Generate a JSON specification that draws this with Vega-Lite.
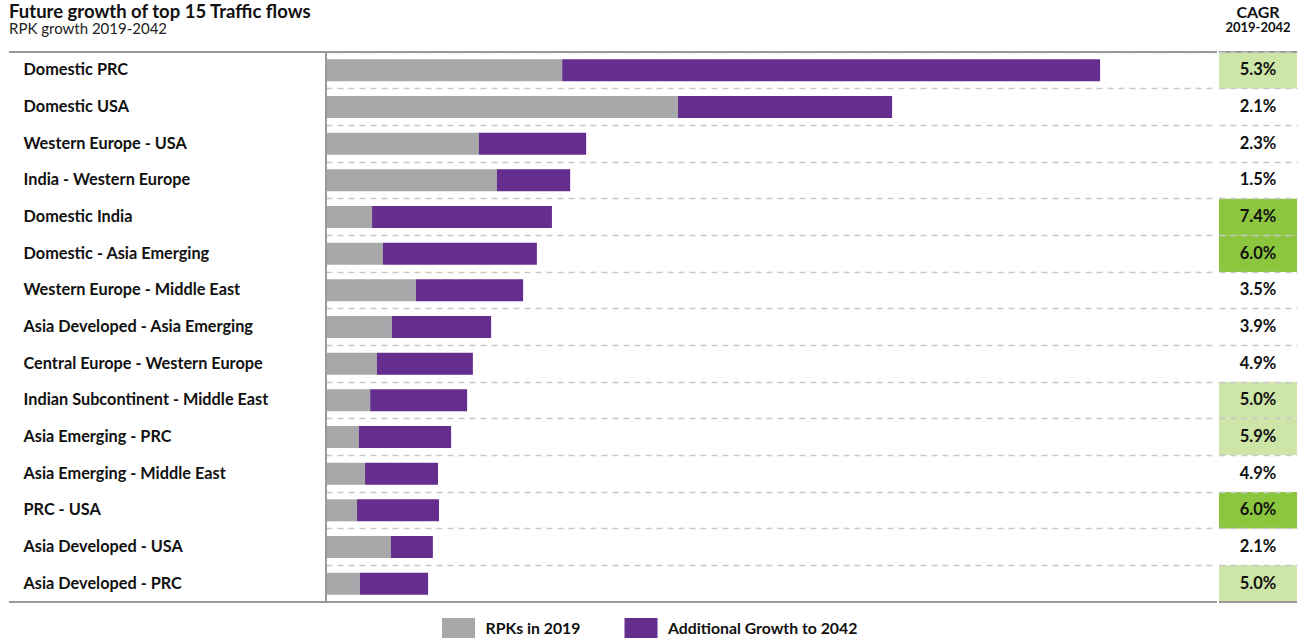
{
  "$schema": "https://vega.github.io/schema/vega-lite/v6.json",
  "padding": {"left": 8, "top": 2, "right": 5, "bottom": 0},
  "spacing": 0,
  "config": {
    "view": {"stroke": null},
    "font": "Lato",
    "concat": {"spacing": 0}
  },
  "datasets": {
    "bars": [
      {"flow": "Domestic PRC", "segment": "RPKs in 2019", "start": 0, "end": 738},
      {"flow": "Domestic PRC", "segment": "Additional Growth to 2042", "start": 738, "end": 2419},
      {"flow": "Domestic USA", "segment": "RPKs in 2019", "start": 0, "end": 1100},
      {"flow": "Domestic USA", "segment": "Additional Growth to 2042", "start": 1100, "end": 1769},
      {"flow": "Western Europe - USA", "segment": "RPKs in 2019", "start": 0, "end": 478},
      {"flow": "Western Europe - USA", "segment": "Additional Growth to 2042", "start": 478, "end": 813},
      {"flow": "India - Western Europe", "segment": "RPKs in 2019", "start": 0, "end": 534},
      {"flow": "India - Western Europe", "segment": "Additional Growth to 2042", "start": 534, "end": 763},
      {"flow": "Domestic India", "segment": "RPKs in 2019", "start": 0, "end": 144},
      {"flow": "Domestic India", "segment": "Additional Growth to 2042", "start": 144, "end": 706},
      {"flow": "Domestic - Asia Emerging", "segment": "RPKs in 2019", "start": 0, "end": 178},
      {"flow": "Domestic - Asia Emerging", "segment": "Additional Growth to 2042", "start": 178, "end": 659},
      {"flow": "Western Europe - Middle East", "segment": "RPKs in 2019", "start": 0, "end": 281},
      {"flow": "Western Europe - Middle East", "segment": "Additional Growth to 2042", "start": 281, "end": 616},
      {"flow": "Asia Developed - Asia Emerging", "segment": "RPKs in 2019", "start": 0, "end": 206},
      {"flow": "Asia Developed - Asia Emerging", "segment": "Additional Growth to 2042", "start": 206, "end": 516},
      {"flow": "Central Europe - Western Europe", "segment": "RPKs in 2019", "start": 0, "end": 159},
      {"flow": "Central Europe - Western Europe", "segment": "Additional Growth to 2042", "start": 159, "end": 459},
      {"flow": "Indian Subcontinent - Middle East", "segment": "RPKs in 2019", "start": 0, "end": 138},
      {"flow": "Indian Subcontinent - Middle East", "segment": "Additional Growth to 2042", "start": 138, "end": 441},
      {"flow": "Asia Emerging - PRC", "segment": "RPKs in 2019", "start": 0, "end": 103},
      {"flow": "Asia Emerging - PRC", "segment": "Additional Growth to 2042", "start": 103, "end": 391},
      {"flow": "Asia Emerging - Middle East", "segment": "RPKs in 2019", "start": 0, "end": 122},
      {"flow": "Asia Emerging - Middle East", "segment": "Additional Growth to 2042", "start": 122, "end": 350},
      {"flow": "PRC - USA", "segment": "RPKs in 2019", "start": 0, "end": 97},
      {"flow": "PRC - USA", "segment": "Additional Growth to 2042", "start": 97, "end": 353},
      {"flow": "Asia Developed - USA", "segment": "RPKs in 2019", "start": 0, "end": 203},
      {"flow": "Asia Developed - USA", "segment": "Additional Growth to 2042", "start": 203, "end": 334},
      {"flow": "Asia Developed - PRC", "segment": "RPKs in 2019", "start": 0, "end": 106},
      {"flow": "Asia Developed - PRC", "segment": "Additional Growth to 2042", "start": 106, "end": 319}
    ],
    "cagr": [
      {"flow": "Domestic PRC", "cagr": "5.3%", "level": "mid"},
      {"flow": "Domestic USA", "cagr": "2.1%", "level": "none"},
      {"flow": "Western Europe - USA", "cagr": "2.3%", "level": "none"},
      {"flow": "India - Western Europe", "cagr": "1.5%", "level": "none"},
      {"flow": "Domestic India", "cagr": "7.4%", "level": "high"},
      {"flow": "Domestic - Asia Emerging", "cagr": "6.0%", "level": "high"},
      {"flow": "Western Europe - Middle East", "cagr": "3.5%", "level": "none"},
      {"flow": "Asia Developed - Asia Emerging", "cagr": "3.9%", "level": "none"},
      {"flow": "Central Europe - Western Europe", "cagr": "4.9%", "level": "none"},
      {"flow": "Indian Subcontinent - Middle East", "cagr": "5.0%", "level": "mid"},
      {"flow": "Asia Emerging - PRC", "cagr": "5.9%", "level": "mid"},
      {"flow": "Asia Emerging - Middle East", "cagr": "4.9%", "level": "none"},
      {"flow": "PRC - USA", "cagr": "6.0%", "level": "high"},
      {"flow": "Asia Developed - USA", "cagr": "2.1%", "level": "none"},
      {"flow": "Asia Developed - PRC", "cagr": "5.0%", "level": "mid"}
    ]
  },
  "hconcat": [
    {
      "width": 1208,
      "height": 550,
      "title": {
        "text": "Future growth of top 15 Traffic flows",
        "subtitle": "RPK growth 2019-2042",
        "anchor": "start",
        "frame": "group",
        "fontSize": 18.5,
        "fontWeight": "bold",
        "color": "#111111",
        "subtitleFontSize": 15,
        "subtitleColor": "#222222",
        "subtitlePadding": 1,
        "offset": 14
      },
      "layer": [
        {
          "data": {"name": "bars"},
          "mark": {"type": "bar", "height": {"band": 0.6}},
          "encoding": {
            "y": {
              "field": "flow",
              "type": "nominal",
              "title": null,
              "scale": {
                "domain": ["Domestic PRC", "Domestic USA", "Western Europe - USA", "India - Western Europe", "Domestic India", "Domestic - Asia Emerging", "Western Europe - Middle East", "Asia Developed - Asia Emerging", "Central Europe - Western Europe", "Indian Subcontinent - Middle East", "Asia Emerging - PRC", "Asia Emerging - Middle East", "PRC - USA", "Asia Developed - USA", "Asia Developed - PRC"],
                "paddingInner": 0,
                "paddingOuter": 0
              },
              "axis": {
                "domain": false,
                "ticks": false,
                "grid": true,
                "bandPosition": 0,
                "gridDash": [6, 5],
                "gridColor": "#c8c8c8",
                "gridWidth": 1.5,
                "labelAlign": "left",
                "labelPadding": -14,
                "labelLimit": 400,
                "labelFontSize": 16.3,
                "labelFontWeight": "bold",
                "labelColor": "#111111"
              }
            },
            "x": {
              "field": "start",
              "type": "quantitative",
              "scale": {"domain": [0, 2784.375], "range": [317, 1208], "nice": false},
              "axis": null
            },
            "x2": {"field": "end"},
            "color": {
              "field": "segment",
              "type": "nominal",
              "scale": {
                "domain": ["RPKs in 2019", "Additional Growth to 2042"],
                "range": ["#a7a8aa", "#652d8e"]
              },
              "legend": {
                "orient": "none",
                "legendX": 438.5,
                "legendY": 566,
                "direction": "horizontal",
                "title": null,
                "symbolType": "M-1.5,-1H1.5V1H-1.5Z",
                "symbolSize": 484,
                "symbolStrokeWidth": 0,
                "symbolOpacity": 1,
                "labelFontSize": 15.8,
                "labelFontWeight": "bold",
                "labelColor": "#111111",
                "labelLimit": 400,
                "labelOffset": 16,
                "columnPadding": 43.5
              }
            }
          }
        },
        {
          "data": {"values": [{}]},
          "mark": {"type": "rule", "color": "#9a9a9a", "strokeWidth": 2},
          "encoding": {"x": {"datum": 0, "type": "quantitative"}}
        },
        {
          "data": {"values": [{"flow": "Domestic PRC"}]},
          "mark": {"type": "rule", "color": "#9a9a9a", "strokeWidth": 2},
          "encoding": {"y": {"field": "flow", "type": "nominal", "bandPosition": 0}}
        },
        {
          "data": {"values": [{"flow": "Asia Developed - PRC"}]},
          "mark": {"type": "rule", "color": "#9a9a9a", "strokeWidth": 2},
          "encoding": {"y": {"field": "flow", "type": "nominal", "bandPosition": 1}}
        }
      ]
    },
    {
      "width": 78,
      "height": 550,
      "title": {
        "text": "CAGR",
        "subtitle": "2019-2042",
        "anchor": "middle",
        "frame": "group",
        "fontSize": 16,
        "fontWeight": "bold",
        "color": "#111111",
        "subtitleFontSize": 13,
        "subtitleFontWeight": "bold",
        "subtitleColor": "#111111",
        "subtitlePadding": 1,
        "offset": 16
      },
      "layer": [
        {
          "data": {"name": "cagr"},
          "mark": {"type": "rect"},
          "encoding": {
            "y": {
              "field": "flow",
              "type": "nominal",
              "title": null,
              "scale": {
                "domain": ["Domestic PRC", "Domestic USA", "Western Europe - USA", "India - Western Europe", "Domestic India", "Domestic - Asia Emerging", "Western Europe - Middle East", "Asia Developed - Asia Emerging", "Central Europe - Western Europe", "Indian Subcontinent - Middle East", "Asia Emerging - PRC", "Asia Emerging - Middle East", "PRC - USA", "Asia Developed - USA", "Asia Developed - PRC"],
                "paddingInner": 0,
                "paddingOuter": 0
              },
              "axis": {
                "domain": false,
                "ticks": false,
                "labels": false,
                "grid": true,
                "bandPosition": 0,
                "gridDash": [6, 5],
                "gridColor": "#c8c8c8",
                "gridWidth": 1.5
              }
            },
            "fill": {
              "field": "level",
              "type": "nominal",
              "scale": {"domain": ["high", "mid", "none"], "range": ["#8cc63f", "#cde5a7", "#ffffff"]},
              "legend": null
            }
          }
        },
        {
          "data": {"name": "cagr"},
          "mark": {"type": "text", "fontSize": 16.5, "fontWeight": "bold", "color": "#111111"},
          "encoding": {
            "y": {"field": "flow", "type": "nominal"},
            "text": {"field": "cagr"}
          }
        },
        {
          "data": {"values": [{"flow": "Domestic PRC"}]},
          "mark": {"type": "rule", "color": "#9a9a9a", "strokeWidth": 2},
          "encoding": {"y": {"field": "flow", "type": "nominal", "bandPosition": 0}}
        },
        {
          "data": {"values": [{"flow": "Asia Developed - PRC"}]},
          "mark": {"type": "rule", "color": "#9a9a9a", "strokeWidth": 2},
          "encoding": {"y": {"field": "flow", "type": "nominal", "bandPosition": 1}}
        }
      ]
    }
  ]
}
